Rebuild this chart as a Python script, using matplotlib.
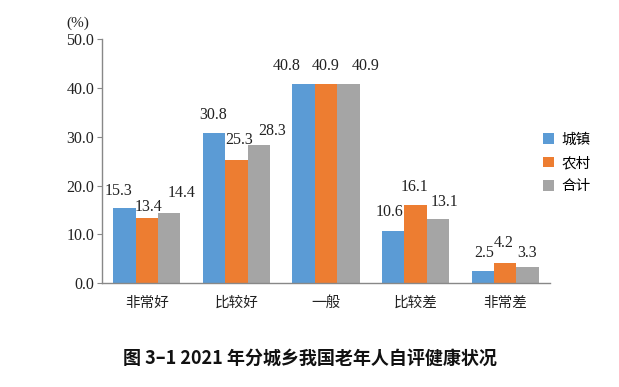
import matplotlib
matplotlib.use("Agg")
import matplotlib.pyplot as plt
import numpy as np

categories = ["非常好", "比较好", "一般", "比较差", "非常差"]
series_names = ["城镇", "农村", "合计"]
urban = [15.3, 30.8, 40.8, 10.6, 2.5]
rural = [13.4, 25.3, 40.9, 16.1, 4.2]
total = [14.4, 28.3, 40.9, 13.1, 3.3]
yticks = [0, 10, 20, 30, 40, 50]
title = "图 3–1 2021 年分城乡我国老年人自评健康状况"

# label placement offsets (pixels) as in the reference layout
label_dx = [[-6, -1, -17, -4, 1], [2, 3, 0, -1, -1], [12, 13, 17, 7, -1]]
label_dy = [[17, 18, 18, 19, 18], [11, 20, 18, 18, 20], [20, 14, 18, 17, 14]]

colors = ["#5B9BD5", "#ED7D31", "#A5A5A5"]
serif = ["Liberation Serif", "DejaVu Serif"]
cjk = ["Noto Sans CJK SC", "DejaVu Sans"]

fig = plt.figure(figsize=(6.19, 3.87), dpi=100)
ax = fig.add_axes([0.1648, 0.2687, 0.7237, 0.6293])

x = np.arange(len(categories))
w = 0.25
for i, (vals, name) in enumerate(zip([urban, rural, total], series_names)):
    pos = x + (i - 1) * w
    ax.bar(pos, vals, width=w, color=colors[i], label=name)
    for j, (p, v) in enumerate(zip(pos, vals)):
        ax.annotate(f"{v:.1f}", xy=(p, v), xytext=(label_dx[i][j], label_dy[i][j]),
                    textcoords="offset pixels", ha="center", va="center",
                    fontsize=11.5, family=serif, color="#222222")

ax.set_xlim(-0.5, 4.5)
ax.set_ylim(0, 50)
ax.set_yticks(yticks)
ax.set_yticklabels([f"{t:.1f}" for t in yticks], family=serif, fontsize=11.5, color="#222222")
ax.set_xticks(x)
ax.set_xticklabels(categories, family=cjk, fontsize=10.5, color="#222222")
ax.tick_params(axis="x", length=0, pad=9)
ax.tick_params(axis="y", length=3.6, color="#888888", pad=2)
for s in ["top", "right"]:
    ax.spines[s].set_visible(False)
for s in ["left", "bottom"]:
    ax.spines[s].set_color("#888888")
    ax.spines[s].set_linewidth(1.0)

fig.text(78 / 619, 1 - 23 / 387, "(%)", family=serif, fontsize=11, ha="center", va="center", color="#222222")

fig.legend(loc="center left", bbox_to_anchor=(543 / 619, 1 - 163 / 387), frameon=False,
           prop={"family": cjk, "size": 10.5}, handlelength=0.75, handleheight=0.75,
           handletextpad=0.5, labelspacing=0.65, borderaxespad=0, borderpad=0)

fig.text(310 / 619, 1 - 358 / 387, title, family=cjk, fontsize=13, fontweight="bold",
         ha="center", va="center", color="#111111")

fig.savefig("out.png", dpi=100)
